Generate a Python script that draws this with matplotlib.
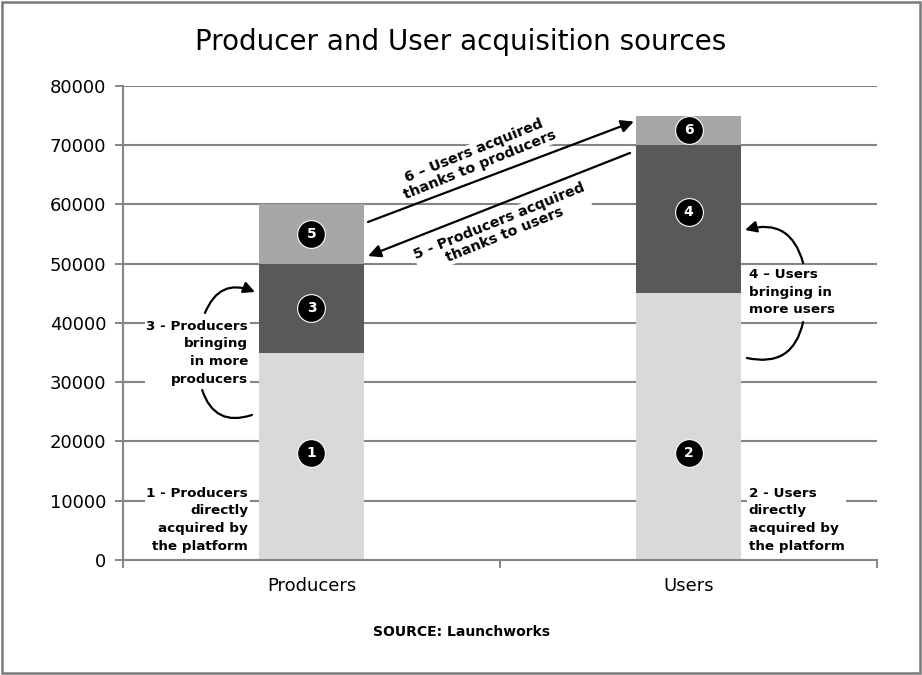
import numpy as np
import matplotlib
matplotlib.use("Agg")
from matplotlib import pyplot as plt
from matplotlib.patches import Rectangle

# data
categories = ["Producers", "Users"]
direct = [35000, 45000]        # 1, 2 - directly acquired by the platform
same_side = [15000, 25000]     # 3, 4 - bringing in more of the same side
cross_side = [10000, 5000]     # 5, 6 - acquired thanks to the other side
badges = [["1", "3", "5"], ["2", "4", "6"]]
y_ticks = [0, 10000, 20000, 30000, 40000, 50000, 60000, 70000, 80000]

plt.rcParams["font.family"] = ["DejaVu Sans"]

GRID = "#858585"
fig = plt.figure(figsize=(9.22, 6.75), dpi=100)
ax = fig.add_axes([0.1334, 0.1704, 0.8178, 0.7022])

x = np.arange(len(categories))
w = 0.28
ax.bar(x, direct, w, color="#d9d9d9", zorder=2)
ax.bar(x, same_side, w, bottom=direct, color="#595959", zorder=2)
tops = np.array(direct) + np.array(same_side)
ax.bar(x, cross_side, w, bottom=tops, color="#a6a6a6", zorder=2)

ax.set_xlim(-0.5, 1.5)
ax.set_ylim(0, 80000)
ax.set_yticks(y_ticks)
ax.set_yticklabels([str(t) for t in y_ticks], fontsize=13)
ax.set_xticks(x)
ax.set_xticklabels(categories, fontsize=13)
ax.set_xticks([-0.5, 0.5, 1.5], minor=True)
ax.tick_params(axis="x", which="major", length=0, pad=12)
ax.tick_params(axis="x", which="minor", length=6, width=1.4, color=GRID)
ax.tick_params(axis="y", length=6, width=1.4, color=GRID, pad=6)
ax.yaxis.grid(True, color=GRID, lw=1.5, zorder=0)
ax.set_axisbelow(True)
for s in ["top", "right"]:
    ax.spines[s].set_visible(False)
for s in ["left", "bottom"]:
    ax.spines[s].set_color(GRID)
    ax.spines[s].set_linewidth(1.5)

# numbered black badges in each segment
badge_y = [[18000, 42500, 55000], [18000, 58800, 72500]]
for i in range(len(categories)):
    for lab, yy in zip(badges[i], badge_y[i]):
        ax.scatter(i, yy, s=400, color="black", edgecolor="white", lw=0.8, zorder=4)
        ax.text(i, yy, lab, color="white", fontsize=10, fontweight="bold",
                ha="center", va="center", zorder=5)

# side notes
note = dict(fontsize=9.7, fontweight="bold", va="center", linespacing=1.47, zorder=3,
            bbox=dict(facecolor="white", edgecolor="none", pad=1))
ax.text(-0.168, 6800, "1 - Producers\ndirectly\nacquired by\nthe platform", ha="right", **note)
ax.text(-0.168, 35000, "3 - Producers\nbringing\nin more\nproducers", ha="right", **note)
ax.text(1.160, 6800, "2 - Users\ndirectly\nacquired by\nthe platform", ha="left", **note)
ax.text(1.160, 45230, "4 – Users\nbringing in\nmore users", ha="left", **note)

# curved arrows
curve = dict(color="black", lw=1.6, shrinkA=0, shrinkB=0)
ax.annotate("", xy=(-0.15, 45230), xytext=(-0.2825, 41690),
            arrowprops=dict(arrowstyle="-|>", mutation_scale=17,
                            connectionstyle="arc3,rad=-0.5", **curve), zorder=4)
ax.annotate("", xy=(-0.158, 24470), xytext=(-0.29, 28690),
            arrowprops=dict(arrowstyle="-", connectionstyle="arc3,rad=0.5", **curve), zorder=4)
ax.annotate("", xy=(1.15, 55700), xytext=(1.304, 50130),
            arrowprops=dict(arrowstyle="-|>", mutation_scale=17,
                            connectionstyle="arc3,rad=0.5", **curve), zorder=4)
ax.annotate("", xy=(1.155, 34090), xytext=(1.304, 40170),
            arrowprops=dict(arrowstyle="-", connectionstyle="arc3,rad=-0.5", **curve), zorder=4)

# cross-side straight arrows
ax.annotate("", xy=(0.855, 74000), xytext=(0.15, 57050),
            arrowprops=dict(arrowstyle="-|>", mutation_scale=19, **curve), zorder=4)
ax.annotate("", xy=(0.15, 51300), xytext=(0.845, 68700),
            arrowprops=dict(arrowstyle="-|>", mutation_scale=19, **curve), zorder=4)
rot = dict(fontsize=10.3, fontweight="bold", ha="center", va="center", rotation=22,
           rotation_mode="anchor", linespacing=1.15, zorder=3,
           bbox=dict(facecolor="white", edgecolor="none", pad=0.5))
ax.text(0.44, 67860, "6 – Users acquired\nthanks to producers", **rot)
ax.text(0.505, 56040, "5 - Producers acquired\nthanks to users", **rot)

fig.text(0.5, 1 - 42 / 675, "Producer and User acquisition sources", fontsize=20,
         ha="center", va="center")
fig.text(0.5, 1 - 632 / 675, "SOURCE: Launchworks", fontsize=10, fontweight="bold",
         ha="center", va="center")

fig.patches.append(Rectangle((0.002, 0.003), 0.996, 0.994, transform=fig.transFigure,
                             fill=False, edgecolor="#7a7a7a", lw=1.8))

fig.savefig("out.png", dpi=100)
